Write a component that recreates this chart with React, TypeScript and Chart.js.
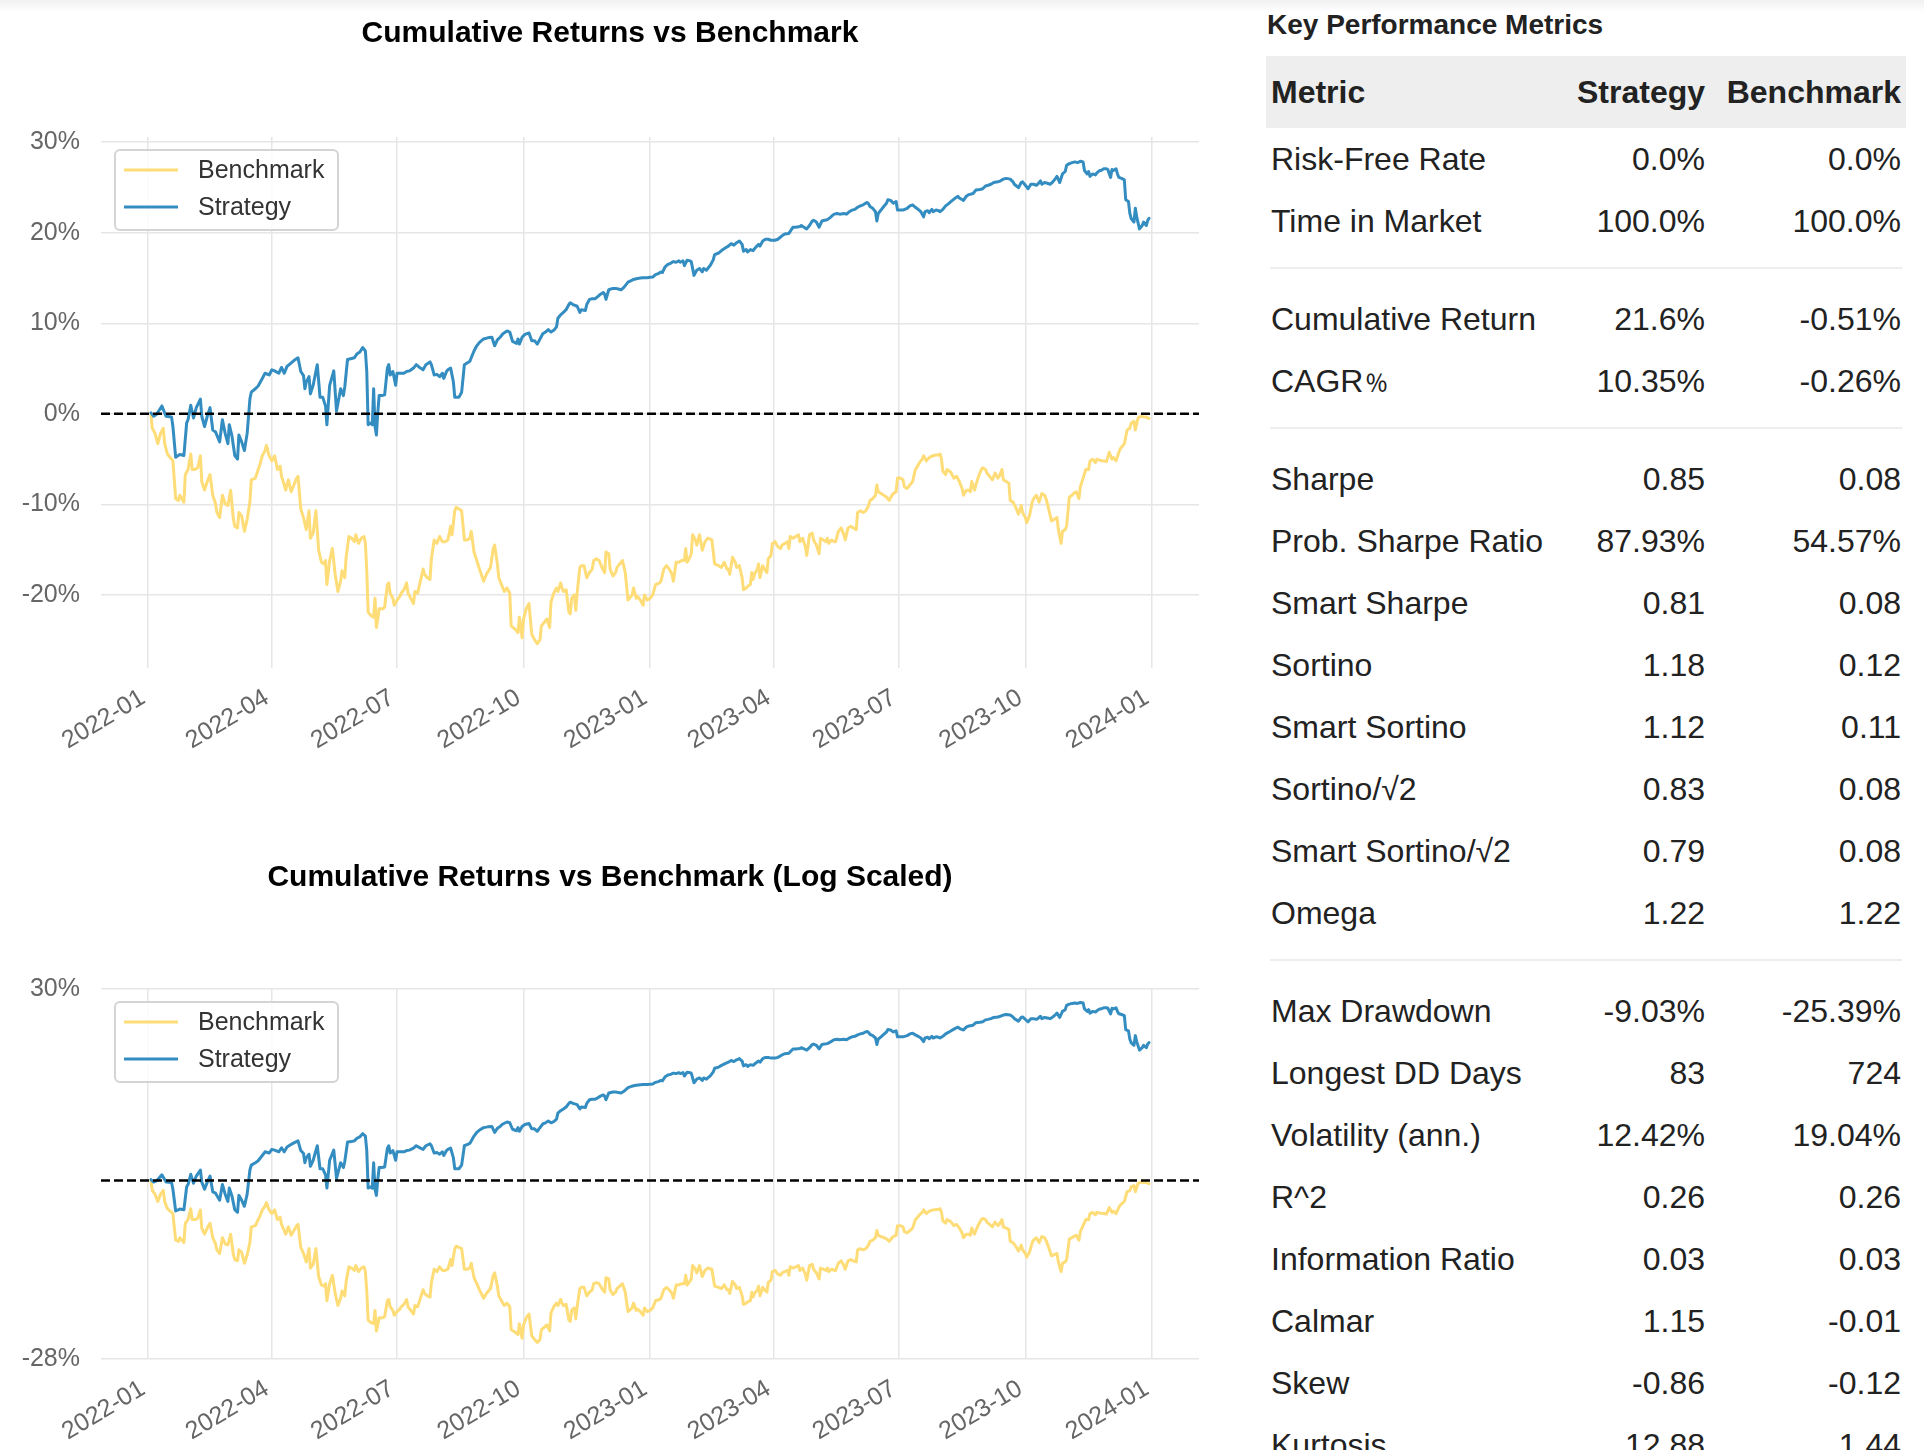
import React, { useEffect, useRef } from 'react';
import { Chart, registerables } from 'chart.js';

Chart.register(...registerables);

const FONT = "'Liberation Sans', Arial, Helvetica, sans-serif";

// ---------- data ----------
const quarterLabels = ['2022-01', '2022-04', '2022-07', '2022-10', '2023-01', '2023-04', '2023-07', '2023-10', '2024-01'];
const linearYTicks = [-20, -10, 0, 10, 20, 30];
const logYTicks = [-28, 30];

// days since 2022-01-01, cumulative return in %
const strategyDays = [
  2, 4, 6, 10, 13, 17, 18, 20, 23, 26, 28, 29, 31, 33, 35, 38, 39, 41, 43, 45, 47, 49, 52, 54, 56, 58, 59, 61, 63, 65,
  66, 68, 70, 72, 74, 75, 78, 80, 83, 85, 88, 90, 92, 95, 97, 99, 101, 103, 106, 109, 111, 113, 114, 115, 117, 118, 120, 123, 125, 127,
  129, 130, 132, 135, 137,
  140, 142, 143, 145, 148, 150, 152, 154, 156, 158, 159, 160, 162, 163, 164, 165, 166, 167, 168, 170, 172, 174, 175, 176, 178, 180, 181, 183, 186, 188,
  190, 193, 195, 198, 200, 202, 205, 206, 208, 210, 212, 214, 215, 217, 218, 220, 222, 223, 226, 228, 230, 232, 234, 235, 237, 239, 241, 244, 247, 250,
  252, 254, 256, 258, 261, 263, 265, 268, 269, 270, 272, 274, 277, 279, 281, 283,
  285, 287, 289, 291, 293, 295, 297, 298, 300, 302, 304, 306, 307, 309, 312, 314, 315, 318, 319, 321, 323, 325, 327, 329, 331, 332, 333, 335, 338, 340,
  342, 344, 346, 348, 349, 351, 353, 355, 358, 360, 363, 365, 367, 369, 371, 373, 374, 376, 378, 380, 382, 384, 386, 387, 389, 390, 392, 394, 395, 397,
  399, 401, 403, 404, 406, 409, 411, 412, 415, 417, 420, 422, 424, 426, 428,
  430, 432, 433, 435, 436, 438, 440, 442, 444, 445, 447, 449, 451, 453, 456, 458, 461, 463, 466, 467, 469, 471, 474, 475, 477, 479, 481, 483, 484, 486,
  488, 490, 492, 494, 496, 498, 499, 501, 503, 506, 508, 510, 512, 514, 516, 518, 520, 521, 523, 524, 525, 527, 529, 530, 531, 533, 535, 537, 538, 540,
  542, 544, 545, 547, 549, 552, 554, 556, 558, 560, 562, 564, 565, 567, 568, 570, 571, 573, 575,
  576, 578, 580, 582, 584, 587, 589, 590, 593, 595, 597, 600, 602, 605, 607, 609, 611, 613, 615, 618, 620, 622, 624, 627, 629, 630, 633, 635, 636, 638,
  640, 642, 644, 646, 647, 649, 650, 652, 654, 656, 658, 660, 661, 663, 665, 667, 668, 670, 672, 674, 676, 678, 680, 681, 683, 684, 685, 687, 689, 690,
  692, 693, 695, 697, 698, 700, 701, 702, 704, 705, 706, 708, 710, 711, 713, 714, 715, 717, 718, 719, 721, 723, 724, 726, 727, 728,
];
const strategyReturns = [
  0.11, -0.27, -0.08, 0.87, -0.27, -0.34, -1.4, -4.8, -4.5, -4.6, -1.0, -0.65, 0.95, -0.46, 0.68, 1.63, -0.27, -1.4, -0.27, 0.68,
  -1.8, -2.0, -3.1, -0.65, -2.16, -3.3, -1.2, -2.5, -4.6, -5.0, -2.35, -3.1, -4.06, -2.16, 1.63, 2.39, 2.77, 3.07, 3.9, 4.48,
  4.29, 4.86, 4.74, 4.48, 5.12, 4.48, 5.24, 5.5, 5.88, 6.19, 4.67, 4.21, 2.77, 3.53, 4.1, 2.2, 3.15, 5.43, 1.82, 1.82,
  0.87, -1.21, 3.15, 4.74, 0.3,
  2.77, 2.01, 2.96, 6.0, 6.11, 6.19, 6.64, 6.83, 7.32, 6.94, 4.67, -1.21, -1.0, -1.21, 2.77, -1.4, -2.35, 0.11, 2.01, 2.01,
  2.09, 5.05, 5.43, 4.29, 4.67, 3.15, 4.48, 4.48, 4.48, 4.67, 4.74, 5.05, 5.43, 5.05, 4.86, 5.43, 5.73, 5.43, 4.29, 4.36,
  4.1, 4.48, 3.91, 4.67, 4.86, 5.05, 3.53, 1.82, 1.82, 2.39, 5.43, 5.62, 5.81, 6.19, 6.94, 7.51, 7.89, 8.27, 8.39, 8.46,
  7.51, 8.16, 8.46, 8.84, 9.15, 9.03, 8.01, 7.78, 8.27, 7.7, 8.46, 8.77, 8.92, 8.08, 8.08, 7.7,
  8.27, 8.84, 9.03, 9.3, 9.03, 9.22, 9.6, 10.55, 10.93, 11.2, 11.5, 12.07, 12.26, 12.07, 11.88, 11.2, 11.5, 11.42, 12.07, 12.64,
  12.71, 12.71, 12.94, 13.21, 13.4, 13.21, 12.64, 13.7, 13.85, 13.85, 13.78, 13.7, 13.97, 14.35, 14.54, 14.69, 14.84, 14.91, 14.99, 15.03,
  15.03, 15.07, 15.1, 15.37, 15.48, 15.67, 15.6, 16.24, 16.51, 16.62, 16.81, 16.74, 16.89, 16.74, 16.89, 16.36, 16.96, 16.89, 16.81, 15.29,
  15.86, 16.05, 15.67, 16.05, 15.86, 16.43, 17.0, 17.57, 17.76, 18.03, 18.33, 18.52, 18.79, 18.63, 18.9,
  19.09, 18.71, 17.95, 18.14, 17.87, 18.14, 18.03, 18.41, 18.71, 18.52, 19.09, 19.28, 19.28, 19.17, 19.17, 19.28, 19.66, 19.85, 19.92, 20.15,
  20.61, 20.61, 20.68, 20.8, 20.61, 20.42, 20.8, 21.29, 21.37, 21.18, 20.61, 21.29, 21.37, 21.44, 21.67, 21.94, 22.05, 22.13, 22.05, 22.13,
  22.05, 22.32, 22.5, 22.58, 22.81, 22.96, 23.07, 23.19, 23.34, 23.19, 22.89, 22.69, 22.32, 21.29, 22.13, 22.5, 22.89, 23.26, 23.64, 23.57,
  23.26, 23.45, 22.5, 22.5, 22.5, 22.69, 22.96, 23.07, 22.81, 22.58, 22.32, 21.75, 22.32, 22.43, 22.2, 22.58, 22.32, 22.5, 22.43,
  22.32, 22.58, 22.96, 23.19, 23.45, 23.83, 24.02, 23.83, 23.57, 24.02, 24.21, 24.33, 24.71, 24.78, 24.86, 25.16, 25.24, 25.35, 25.54, 25.62,
  25.73, 25.92, 26.0, 25.92, 25.62, 25.35, 24.97, 25.54, 25.62, 25.24, 24.86, 25.35, 25.35, 25.24, 25.35, 25.73, 25.35, 25.54, 25.46, 25.35,
  25.62, 26.0, 26.22, 25.54, 26.49, 26.76, 27.44, 27.63, 27.74, 27.82, 27.74, 27.89, 27.82, 26.87, 26.49, 26.76, 26.22, 26.49, 26.38, 26.6,
  26.87, 26.87, 27.06, 27.06, 26.98, 26.11, 26.98, 26.87, 27.06, 26.49, 26.11, 26.0, 25.84, 23.64, 23.45, 22.13, 21.56, 21.18, 22.69, 21.75,
  20.42, 20.8, 21.18, 20.8, 21.37, 21.6,
];

const benchmarkDays = [
  2, 3, 5, 7, 9, 11, 12, 14, 16, 18, 20, 22, 23, 26, 27, 29, 31, 32, 34, 36, 38, 39, 41, 43, 45, 47, 49, 50, 52, 54,
  56, 58, 60, 62, 63, 65, 66, 68, 70, 72, 74, 75, 78, 80, 81, 83, 85, 86, 88, 90, 92, 94, 96, 97, 99, 100, 102, 104, 106, 108,
  109, 111, 113, 115, 117, 118, 120, 122, 124, 126, 128, 129, 130, 132, 134, 136, 138,
  140, 141, 143, 144, 146, 148, 150, 151, 153, 155, 157, 158, 159, 160, 162, 164, 165, 166, 167, 168, 171, 172, 174, 175, 176, 178, 179, 181, 183, 184,
  186, 188, 189, 191, 193, 194, 196, 198, 200, 201, 203, 205, 206, 208, 210, 212, 214, 216, 218, 220, 221, 223, 224, 226, 228, 230, 232, 234, 235, 237,
  239, 241, 244, 246, 249, 251, 252, 254, 255, 257, 259, 261, 263, 264, 267, 269, 270, 272, 273, 275, 277, 279, 281, 283,
  285, 286, 288, 290, 292, 293, 295, 297, 298, 300, 301, 302, 304, 306, 307, 308, 310, 311, 312, 314, 315, 317, 319, 321, 323, 324, 326, 328, 330, 332,
  333, 335, 336, 338, 340, 341, 343, 345, 347, 349, 350, 352, 353, 355, 356, 358, 360, 361, 363, 365, 367, 369, 372, 373, 375, 377, 379, 381, 382, 384,
  386, 388, 390, 391, 392, 394, 395, 396, 398, 399, 401, 403, 405, 407, 410, 412, 415, 417, 419, 421, 422, 423, 425, 427, 428,
  430, 432, 433, 435, 436, 438, 439, 440, 441, 443, 444, 445, 447, 449, 450, 451, 453, 454, 456, 458, 460, 461, 463, 465, 466, 467, 469, 471, 473, 474,
  476, 478, 479, 481, 483, 484, 486, 488, 489, 491, 493, 494, 495, 497, 499, 500, 502, 504, 506, 507, 509, 511, 513, 515, 516, 518, 520, 522, 524, 525,
  527, 529, 530, 531, 533, 535, 537, 539, 541, 542, 544, 545, 547, 549, 550, 552, 554, 556, 558, 559, 561, 563, 564, 566, 567, 569, 571, 573, 575,
  576, 577, 578, 580, 581, 583, 584, 586, 588, 590, 592, 593, 595, 597, 598, 599, 601, 602, 604, 606, 607, 609, 610, 612, 614, 616, 618, 619, 621, 622,
  624, 626, 627, 629, 631, 633, 635, 636, 638, 639, 641, 643, 644, 646, 648, 650, 652, 653, 655, 657, 659, 661, 662, 664, 665, 667, 668, 670, 672, 673,
  675, 677, 678, 680, 682, 684, 685, 687, 689, 690, 692, 695, 697, 699, 701, 702, 704, 706, 707, 710, 712, 714, 715, 717, 718, 720, 722, 724, 726, 727,
  728,
];
const benchmarkReturns = [
  -0.08, -1.59, -2.16, -3.3, -2.16, -1.59, -3.3, -4.44, -4.82, -5.2, -9.37, -9.56, -8.99, -9.75, -6.72, -6.15, -4.44, -6.15, -6.15, -5.96,
  -4.63, -7.48, -8.43, -7.48, -6.72, -8.99, -9.94, -10.89, -11.46, -8.99, -9.94, -10.13, -8.43, -11.65, -12.41, -12.6, -10.89, -11.27, -12.98, -11.65,
  -9.75, -7.29, -7.1, -6.15, -5.77, -4.63, -4.06, -3.49, -4.63, -5.2, -4.63, -6.15, -5.77, -6.91, -7.86, -8.43, -7.29, -8.61, -7.86, -7.1,
  -6.91, -10.51, -11.46, -12.79, -10.7, -13.74, -13.17, -10.7, -15.07, -16.39, -16.58, -16.2, -18.86, -16.2, -14.88, -17.72, -19.62,
  -18.48, -17.34, -18.1, -15.83, -13.55, -13.74, -14.12, -13.36, -14.31, -13.74, -13.55, -14.31, -17.34, -21.9, -22.28, -22.47, -20.38, -23.6, -22.66, -21.52,
  -21.52, -21.33, -18.86, -18.67, -19.81, -20.38, -21.14, -20.57, -20.19, -19.81, -19.43, -18.67, -19.81, -20.38, -20.95, -19.62, -19.81, -18.48, -17.15, -17.72,
  -18.1, -18.29, -16.02, -13.93, -14.31, -13.55, -14.12, -14.12, -13.93, -12.41, -13.36, -10.7, -10.32, -10.51, -10.7, -13.93, -13.93, -13.74, -12.98, -15.26,
  -16.2, -17.15, -18.48, -17.72, -16.96, -14.88, -14.5, -16.58, -18.1, -18.86, -19.62, -19.24, -19.81, -23.42, -23.8, -24.17, -22.47, -24.74, -22.66, -21.52,
  -20.95, -24.36, -24.93, -25.39,
  -24.93, -23.42, -23.04, -22.66, -23.61, -20.76, -19.81, -19.24, -19.62, -18.67, -19.24, -19.62, -19.43, -21.9, -22.09, -20.38, -20.0, -21.71, -19.81, -16.96,
  -16.77, -16.77, -18.1, -17.53, -17.15, -16.2, -16.02, -16.2, -16.96, -17.53, -15.26, -15.45, -17.15, -17.91, -17.53, -16.96, -16.58, -16.2, -17.53, -20.57,
  -20.38, -20.0, -19.24, -20.38, -20.19, -20.57, -21.14, -20.0, -20.57, -20.38, -20.0, -18.86, -18.67, -18.48, -17.15, -16.77, -17.15, -17.72, -18.48, -16.39,
  -16.39, -16.2, -16.2, -14.88, -16.39, -15.83, -15.45, -13.36, -13.93, -14.5, -13.36, -15.07, -14.12, -13.74, -13.93, -16.58, -16.77, -16.96, -16.39, -17.15,
  -17.15, -17.72, -15.83, -16.39, -16.96,
  -16.77, -18.1, -19.43, -19.24, -19.05, -18.86, -17.53, -18.29, -17.72, -17.15, -16.58, -18.1, -16.77, -17.34, -17.53, -16.02, -15.64, -14.31, -14.12, -14.69,
  -14.88, -14.5, -14.31, -14.12, -14.88, -13.55, -13.74, -13.55, -13.36, -14.12, -13.74, -14.69, -15.64, -13.36, -13.17, -13.93, -14.5, -15.45, -13.74, -13.93,
  -14.12, -13.74, -14.31, -13.93, -14.12, -14.12, -12.98, -12.6, -13.36, -13.93, -12.6, -12.41, -12.6, -12.79, -10.89, -10.7, -10.89, -10.7, -10.13, -9.56,
  -9.37, -8.99, -7.86, -8.61, -8.8, -8.99, -9.18, -9.56, -8.99, -8.8, -8.61, -7.1, -7.1, -7.29, -8.05, -8.24, -7.86, -7.48, -6.15, -5.96,
  -5.39, -5.01, -4.63, -5.2, -5.01, -4.74, -4.63, -4.55, -4.55,
  -4.44, -5.01, -6.34, -6.72, -6.15, -6.34, -6.53, -7.1, -6.91, -7.48, -8.24, -8.99, -8.43, -8.43, -8.61, -7.48, -8.43, -7.86, -6.91, -6.15,
  -5.96, -6.15, -6.53, -6.91, -7.29, -6.53, -7.1, -6.91, -6.15, -7.29, -7.48, -7.67, -9.56, -9.75, -10.32, -11.08, -10.13, -10.89, -11.46, -12.03,
  -11.27, -9.75, -9.37, -8.99, -9.75, -8.8, -8.99, -9.37, -10.51, -11.84, -11.65, -11.46, -12.79, -14.31, -12.98, -12.79, -12.41, -9.18, -8.99, -8.8,
  -8.61, -9.37, -8.05, -7.1, -6.15, -6.15, -5.2, -5.01, -5.39, -5.01, -5.12, -5.2, -5.28, -4.25, -5.01, -4.82, -5.2, -4.25, -3.87, -3.3,
  -1.78, -1.59, -1.02, -0.83, -1.78, -0.46, -0.27, -0.34, -0.34, -0.46, -0.51,
];

const metricNames = [
  'Risk-Free Rate', 'Time in Market', 'Cumulative Return', 'CAGR﹪', 'Sharpe', 'Prob. Sharpe Ratio', 'Smart Sharpe',
  'Sortino', 'Smart Sortino', 'Sortino/√2', 'Smart Sortino/√2', 'Omega', 'Max Drawdown', 'Longest DD Days',
  'Volatility (ann.)', 'R^2', 'Information Ratio', 'Calmar', 'Skew', 'Kurtosis',
];
const strategyMetrics = [
  '0.0%', '100.0%', '21.6%', '10.35%', '0.85', '87.93%', '0.81', '1.18', '1.12', '0.83', '0.79', '1.22',
  '-9.03%', '83', '12.42%', '0.26', '0.03', '1.15', '-0.86', '12.88',
];
const benchmarkMetrics = [
  '0.0%', '100.0%', '-0.51%', '-0.26%', '0.08', '54.57%', '0.08', '0.12', '0.11', '0.08', '0.08', '1.22',
  '-25.39%', '724', '19.04%', '0.26', '0.03', '-0.01', '-0.12', '1.44',
];
const separatorsAfter = [1, 3, 11];

// ---------- helpers ----------
const DAY_MS = 86400000;
const dayOf = (label: string) => {
  const [y, m] = label.split('-').map(Number);
  return (Date.UTC(y, m - 1, 1) - Date.UTC(2022, 0, 1)) / DAY_MS;
};
const X_MIN = -34.3;
const X_MAX = 764.3;
const GRID = '#e6e6e6';
const TICK_COLOR = '#666666';

const legendBoxPlugin = {
  id: 'legendBox',
  afterDraw(chart: any) {
    const { ctx, chartArea } = chart;
    const x = chartArea.left + 14;
    const y = chartArea.top + 13;
    const w = 223;
    const h = 80;
    ctx.save();
    ctx.beginPath();
    if (ctx.roundRect) ctx.roundRect(x, y, w, h, 5);
    else ctx.rect(x, y, w, h);
    ctx.fillStyle = 'rgba(255,255,255,0.85)';
    ctx.fill();
    ctx.lineWidth = 2;
    ctx.strokeStyle = '#d4d4d4';
    ctx.stroke();
    const items = chart.data.datasets.filter((d: any) => d.label);
    items.forEach((d: any, i: number) => {
      const cy = y + 20 + i * 37;
      ctx.beginPath();
      ctx.moveTo(x + 9, cy);
      ctx.lineTo(x + 63, cy);
      ctx.lineWidth = 3;
      ctx.strokeStyle = d.borderColor;
      ctx.stroke();
      ctx.fillStyle = '#333333';
      ctx.font = `25px ${FONT}`;
      ctx.textBaseline = 'middle';
      ctx.textAlign = 'left';
      ctx.fillText(d.label, x + 83, cy + 1);
    });
    ctx.restore();
  },
};

function makeConfig(opts: {
  title: string;
  padTop: number;
  padBottom: number;
  yMin: number;
  yMax: number;
  yTicks: number[];
  xAxisHeight: number;
}) {
  const lineBase = {
    pointRadius: 0,
    borderWidth: 3,
    tension: 0,
    fill: false,
    borderJoinStyle: 'round',
    borderCapStyle: 'round',
  };
  return {
    type: 'line',
    data: {
      datasets: [
        {
          ...lineBase,
          label: 'Benchmark',
          data: benchmarkDays.map((d, i) => ({ x: d, y: benchmarkReturns[i] })),
          borderColor: '#fedd78',
          backgroundColor: '#fedd78',
          order: 2,
        },
        {
          ...lineBase,
          label: 'Strategy',
          data: strategyDays.map((d, i) => ({ x: d, y: strategyReturns[i] })),
          borderColor: '#348dc1',
          backgroundColor: '#348dc1',
          order: 1,
        },
        {
          label: '',
          data: [
            { x: X_MIN, y: 0 },
            { x: X_MAX, y: 0 },
          ],
          borderColor: '#000000',
          borderWidth: 2.5,
          borderDash: [9, 4],
          pointRadius: 0,
          order: 0,
        },
      ],
    },
    options: {
      animation: false,
      responsive: false,
      maintainAspectRatio: false,
      events: [],
      layout: { padding: 0 },
      plugins: {
        legend: { display: false },
        tooltip: { enabled: false },
        title: {
          display: true,
          text: opts.title,
          color: '#000000',
          font: { family: FONT, size: 30, weight: 'bold', lineHeight: 1.2 },
          padding: { top: opts.padTop, bottom: opts.padBottom },
        },
      },
      scales: {
        x: {
          type: 'linear',
          min: X_MIN,
          max: X_MAX,
          afterBuildTicks: (s: any) => {
            s.ticks = quarterLabels.map((l) => ({ value: dayOf(l) }));
          },
          afterFit: (s: any) => {
            s.height = opts.xAxisHeight;
          },
          grid: { color: GRID, lineWidth: 1.5, drawTicks: false },
          border: { display: false },
          ticks: {
            autoSkip: false,
            minRotation: 31,
            maxRotation: 31,
            padding: 15,
            labelOffset: -5,
            color: TICK_COLOR,
            font: { family: FONT, size: 25 },
            callback: (_v: any, i: number) => quarterLabels[i],
          },
        },
        y: {
          type: 'linear',
          position: 'left',
          min: opts.yMin,
          max: opts.yMax,
          afterBuildTicks: (s: any) => {
            s.ticks = opts.yTicks.map((v) => ({ value: v }));
          },
          afterFit: (s: any) => {
            s.width = 101;
          },
          grid: { color: GRID, lineWidth: 1.5, drawTicks: false },
          border: { display: false },
          ticks: {
            padding: 21,
            color: TICK_COLOR,
            font: { family: FONT, size: 25 },
            callback: (v: any) => `${v}%`,
          },
        },
        yRight: {
          type: 'linear',
          position: 'right',
          afterFit: (s: any) => {
            s.width = 21;
          },
          grid: { display: false },
          border: { display: false },
          ticks: { display: false },
        },
      },
    },
    plugins: [legendBoxPlugin],
  };
}

function ChartCanvas(props: { config: any; width: number; height: number; top: number; left: number }) {
  const ref = useRef<HTMLCanvasElement | null>(null);
  useEffect(() => {
    if (!ref.current) return;
    const chart = new Chart(ref.current, props.config);
    return () => chart.destroy();
  }, []);
  return (
    <canvas
      ref={ref}
      width={props.width}
      height={props.height}
      style={{ position: 'absolute', left: props.left, top: props.top, width: props.width, height: props.height, display: 'block' }}
    />
  );
}

function renderName(name: string) {
  const idx = name.indexOf('﹪');
  if (idx < 0) return name;
  return (
    <>
      {name.slice(0, idx)}
      <span
        style={{
          fontFamily: "'Noto Sans CJK SC', 'Noto Sans CJK JP', sans-serif",
          fontSize: 30,
          color: '#222222',
          position: 'relative',
          top: -2,
          marginLeft: -2,
        }}
      >
        ﹪
      </span>
      {name.slice(idx + 1)}
    </>
  );
}

function MetricsTable() {
  const rows: React.ReactNode[] = [];
  metricNames.forEach((name, i) => {
    rows.push(
      <tr key={`r${i}`} style={{ height: 62 }}>
        <td style={{ padding: '0 5px', whiteSpace: 'nowrap', textAlign: 'left' }}>{renderName(name)}</td>
        <td style={{ padding: '0 5px', whiteSpace: 'nowrap', textAlign: 'right' }}>{strategyMetrics[i]}</td>
        <td style={{ padding: '0 5px', whiteSpace: 'nowrap', textAlign: 'right' }}>{benchmarkMetrics[i]}</td>
      </tr>,
    );
    if (separatorsAfter.includes(i)) {
      rows.push(
        <tr key={`s${i}`} style={{ height: 36 }}>
          <td colSpan={3} style={{ padding: '0 4px', verticalAlign: 'top' }}>
            <div style={{ marginTop: 15, height: 2, background: '#eeeeee' }} />
          </td>
        </tr>,
      );
    }
  });
  return (
    <div style={{ position: 'absolute', left: 1266, top: 0, width: 640, fontFamily: FONT, color: '#222222' }}>
      <div
        style={{
          position: 'absolute',
          top: 8,
          left: 1,
          fontSize: 28,
          fontWeight: 'bold',
          lineHeight: '34px',
          whiteSpace: 'nowrap',
        }}
      >
        Key Performance Metrics
      </div>
      <table
        style={{
          position: 'absolute',
          top: 56,
          left: 0,
          width: 640,
          borderCollapse: 'collapse',
          tableLayout: 'fixed',
          fontSize: 32,
          lineHeight: 1.15,
        }}
      >
        <colgroup>
          <col style={{ width: 306 }} />
          <col style={{ width: 138 }} />
          <col style={{ width: 196 }} />
        </colgroup>
        <thead>
          <tr style={{ height: 72, background: '#eeeeee' }}>
            <th style={{ padding: '0 5px', textAlign: 'left', fontWeight: 'bold' }}>Metric</th>
            <th style={{ padding: '0 5px', textAlign: 'right', fontWeight: 'bold' }}>Strategy</th>
            <th style={{ padding: '0 5px', textAlign: 'right', fontWeight: 'bold' }}>Benchmark</th>
          </tr>
        </thead>
        <tbody>{rows}</tbody>
      </table>
    </div>
  );
}

export default function App() {
  const topConfig = makeConfig({
    title: 'Cumulative Returns vs Benchmark',
    padTop: 16,
    padBottom: 85,
    yMin: -28.07,
    yMax: 30.57,
    yTicks: linearYTicks,
    xAxisHeight: 132,
  });
  const logConfig = makeConfig({
    title: 'Cumulative Returns vs Benchmark (Log Scaled)',
    padTop: 60,
    padBottom: 93,
    yMin: -28,
    yMax: 30,
    yTicks: logYTicks,
    xAxisHeight: 91,
  });
  return (
    <div
      style={{
        position: 'absolute',
        left: 0,
        top: 0,
        width: 1924,
        height: 1450,
        overflow: 'hidden',
        background: '#ffffff',
      }}
    >
      <ChartCanvas config={topConfig} width={1220} height={800} top={0} left={0} />
      <ChartCanvas config={logConfig} width={1220} height={650} top={800} left={0} />
      <MetricsTable />
      <div
        style={{
          position: 'absolute',
          left: 0,
          top: 0,
          width: 1924,
          height: 12,
          background: 'linear-gradient(rgba(0,0,0,0.06), rgba(0,0,0,0))',
          pointerEvents: 'none',
        }}
      />
    </div>
  );
}
